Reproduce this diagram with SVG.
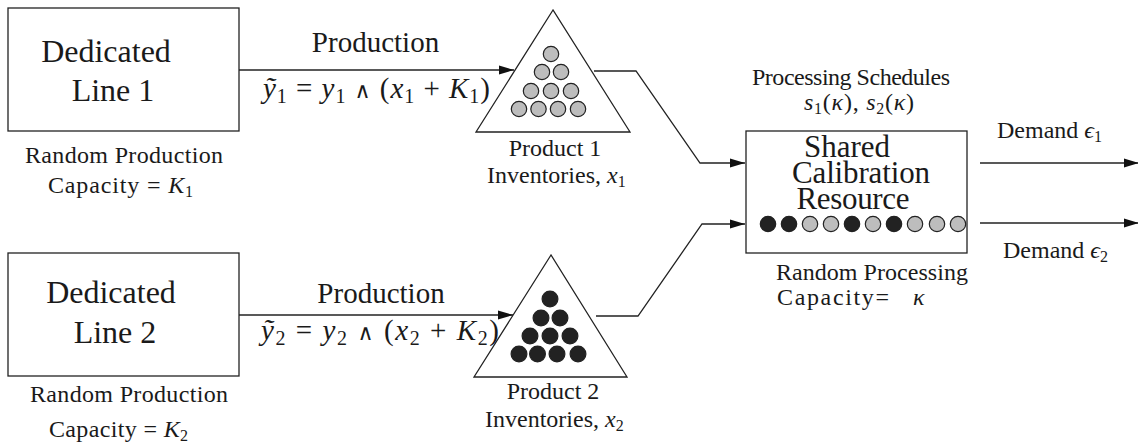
<svg xmlns="http://www.w3.org/2000/svg" width="1138" height="442" viewBox="0 0 1138 442" font-family="'Liberation Serif', 'Times New Roman', 'DejaVu Serif', serif">
<style>
text{font-family:'Liberation Serif','Times New Roman','DejaVu Serif',serif;fill:#1a1a1a}
.big{font-size:32px}
.res{font-size:31px}
.mid{font-size:29px}
.sm{font-size:24px}
.i{font-style:italic}
.op{font-size:22px}
.box{fill:#fff;stroke:#222;stroke-width:1.3}
.tri{fill:#fff;stroke:#222;stroke-width:1.3}
.con{fill:none;stroke:#222;stroke-width:1.3}
.g{fill:#bdbdbd;stroke:#222;stroke-width:1.2}
.b{fill:#222;stroke:#222;stroke-width:1.2}
</style>
<defs>
<marker id="arr" markerWidth="16" markerHeight="10" refX="15" refY="5" orient="auto" markerUnits="userSpaceOnUse">
<path d="M0,0.5 L15,5 L0,9.5 z" fill="#111"/>
</marker>
</defs>
<rect width="1138" height="442" fill="#fff"/>

<g id="line1">
<rect class="box" x="8" y="8" width="231" height="123"/>
<text class="big" x="106" y="62" text-anchor="middle">Dedicated</text>
<text class="big" x="113" y="101" text-anchor="middle">Line 1</text>
<text class="sm" x="124" y="163" text-anchor="middle" textLength="198">Random Production</text>
<text class="sm" x="48" y="193" textLength="145">Capacity = <tspan class="i">K</tspan><tspan font-size="16" dy="4">1</tspan></text>
</g>

<g id="line2">
<rect class="box" x="8" y="253" width="231" height="123"/>
<text class="big" x="111" y="303" text-anchor="middle">Dedicated</text>
<text class="big" x="115" y="343" text-anchor="middle">Line 2</text>
<text class="sm" x="129" y="402" text-anchor="middle" textLength="198">Random Production</text>
<text class="sm" x="49" y="437" textLength="139">Capacity = <tspan class="i">K</tspan><tspan font-size="16" dy="4">2</tspan></text>
</g>

<g id="inv1">
<polygon class="tri" points="553,10 476,132 630,132"/>
<circle class="g" cx="551" cy="54" r="7.7"/>
<circle class="g" cx="542" cy="72" r="7.7"/>
<circle class="g" cx="561" cy="72" r="7.7"/>
<circle class="g" cx="531" cy="91" r="7.7"/>
<circle class="g" cx="551" cy="91" r="7.7"/>
<circle class="g" cx="571" cy="91" r="7.7"/>
<circle class="g" cx="519" cy="109" r="7.7"/>
<circle class="g" cx="538.5" cy="109" r="7.7"/>
<circle class="g" cx="558" cy="109" r="7.7"/>
<circle class="g" cx="578" cy="109" r="7.7"/>
<text class="sm" x="555" y="156" text-anchor="middle">Product 1</text>
<text class="sm" x="487" y="183">Inventories, <tspan class="i">x</tspan><tspan font-size="16" dy="4">1</tspan></text>
</g>

<g id="inv2">
<polygon class="tri" points="551,255 474,377 627,377"/>
<circle class="b" cx="550" cy="299" r="7.9"/>
<circle class="b" cx="541" cy="318" r="7.9"/>
<circle class="b" cx="560" cy="318" r="7.9"/>
<circle class="b" cx="530" cy="336" r="7.9"/>
<circle class="b" cx="550" cy="336" r="7.9"/>
<circle class="b" cx="570" cy="336" r="7.9"/>
<circle class="b" cx="519" cy="354" r="7.9"/>
<circle class="b" cx="537.5" cy="354" r="7.9"/>
<circle class="b" cx="557" cy="354" r="7.9"/>
<circle class="b" cx="578" cy="354" r="7.9"/>
<text class="sm" x="553" y="399" text-anchor="middle">Product 2</text>
<text class="sm" x="485" y="427">Inventories, <tspan class="i">x</tspan><tspan font-size="16" dy="4">2</tspan></text>
</g>

<g id="shared">
<rect class="box" x="746" y="131" width="221" height="122"/>
<text class="res" x="847" y="157" text-anchor="middle" font-size="34">Shared</text>
<text class="res" x="861" y="183" text-anchor="middle" textLength="138">Calibration</text>
<text class="res" x="853" y="209" text-anchor="middle" textLength="113">Resource</text>
<circle class="b" cx="768" cy="224" r="7.7"/>
<circle class="b" cx="789" cy="224" r="7.7"/>
<circle class="g" cx="810" cy="224" r="7.7"/>
<circle class="g" cx="831" cy="224" r="7.7"/>
<circle class="b" cx="852" cy="224" r="7.7"/>
<circle class="g" cx="873" cy="224" r="7.7"/>
<circle class="b" cx="894" cy="224" r="7.7"/>
<circle class="g" cx="915" cy="224" r="7.7"/>
<circle class="g" cx="937" cy="224" r="7.7"/>
<circle class="g" cx="958" cy="224" r="7.7"/>
<text class="sm" x="851" y="85" text-anchor="middle" textLength="198">Processing Schedules</text>
<text class="sm" x="804" y="110" textLength="110"><tspan class="i">s</tspan><tspan font-size="16" dy="4">1</tspan><tspan dy="-4">(</tspan><tspan class="i">κ</tspan>), <tspan class="i">s</tspan><tspan font-size="16" dy="4">2</tspan><tspan dy="-4">(</tspan><tspan class="i">κ</tspan>)</text>
<text class="sm" x="872" y="280" text-anchor="middle" textLength="192">Random Processing</text>
<text class="sm" x="777" y="305" textLength="112">Capacity=</text>
<text class="sm i" x="913" y="305">κ</text>
</g>

<g id="connectors">
<line class="con" x1="239" y1="70" x2="514" y2="70" marker-end="url(#arr)"/>
<line class="con" x1="239" y1="315" x2="513" y2="315" marker-end="url(#arr)"/>
<polyline class="con" points="594,71 636,71 700,163 745,163" marker-end="url(#arr)"/>
<polyline class="con" points="596,316 638,316 702,224 745,224" marker-end="url(#arr)"/>
<line class="con" x1="980" y1="163" x2="1139" y2="163" marker-end="url(#arr)"/>
<line class="con" x1="980" y1="223" x2="1139" y2="223" marker-end="url(#arr)"/>
</g>

<g id="labels">
<text class="mid" x="375.5" y="52" text-anchor="middle">Production</text>
<text class="mid" x="381" y="303" text-anchor="middle">Production</text>
<text class="mid" x="263" y="98" textLength="227"><tspan class="i">ỹ</tspan><tspan font-size="20" dy="5">1</tspan><tspan dy="-5"> = </tspan><tspan class="i">y</tspan><tspan font-size="20" dy="5">1</tspan><tspan dy="-5"> </tspan><tspan class="op">∧</tspan><tspan> (</tspan><tspan class="i">x</tspan><tspan font-size="20" dy="5">1</tspan><tspan dy="-5"> + </tspan><tspan class="i">K</tspan><tspan font-size="20" dy="5">1</tspan><tspan dy="-5">)</tspan></text>
<text class="mid" x="261" y="340" textLength="238"><tspan class="i">ỹ</tspan><tspan font-size="20" dy="5">2</tspan><tspan dy="-5"> = </tspan><tspan class="i">y</tspan><tspan font-size="20" dy="5">2</tspan><tspan dy="-5"> </tspan><tspan class="op">∧</tspan><tspan> (</tspan><tspan class="i">x</tspan><tspan font-size="20" dy="5">2</tspan><tspan dy="-5"> + </tspan><tspan class="i">K</tspan><tspan font-size="20" dy="5">2</tspan><tspan dy="-5">)</tspan></text>
<text class="sm" x="997" y="138">Demand <tspan class="i">ϵ</tspan><tspan font-size="16" dy="4">1</tspan></text>
<text class="sm" x="1003" y="258">Demand <tspan class="i">ϵ</tspan><tspan font-size="16" dy="4">2</tspan></text>
</g>
</svg>
